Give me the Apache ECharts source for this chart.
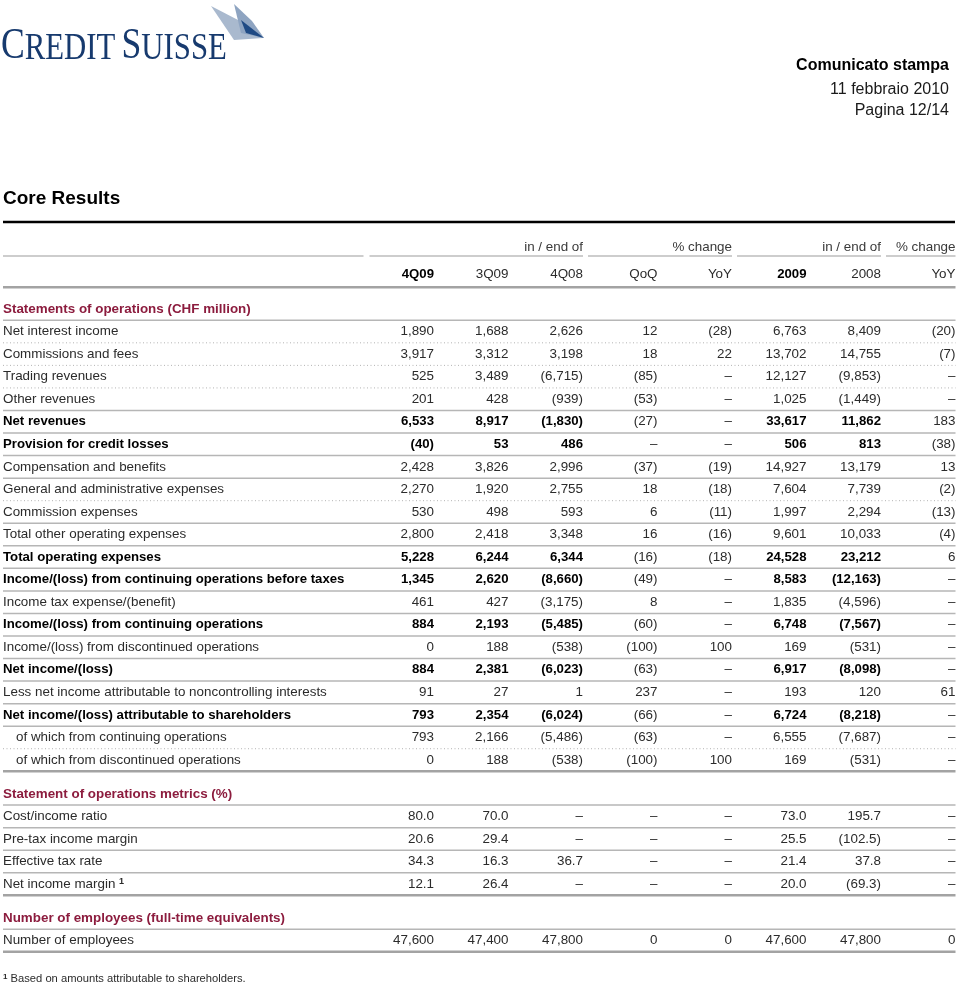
<!DOCTYPE html>
<html>
<head>
<meta charset="utf-8">
<title>Core Results</title>
<script src="https://cdn.jsdelivr.net/npm/echarts@6.0.0/dist/echarts.min.js"></script>
<style>
    html, body { margin: 0; padding: 0; background: #ffffff; }
    #chart { width: 960px; height: 985px; }
</style>
</head>
<body>
<div id="chart"></div>
<script>
// ---- table data ----
const colHeads = ['4Q09', '3Q09', '4Q08', 'QoQ', 'YoY', '2009', '2008', 'YoY'];
const groupTitles = ['in / end of', '% change', 'in / end of', '% change'];
const groupSpans = [[0, 2], [3, 4], [5, 6], [7, 7]];

const sectionTitles = [
    'Statements of operations (CHF million)',
    'Statement of operations metrics (%)',
    'Number of employees (full-time equivalents)'
];
// first row index of each section
const sectionStarts = [0, 20, 24];

const rowLabels = [
    'Net interest income', 'Commissions and fees', 'Trading revenues', 'Other revenues',
    'Net revenues', 'Provision for credit losses', 'Compensation and benefits',
    'General and administrative expenses', 'Commission expenses', 'Total other operating expenses',
    'Total operating expenses', 'Income/(loss) from continuing operations before taxes',
    'Income tax expense/(benefit)', 'Income/(loss) from continuing operations',
    'Income/(loss) from discontinued operations', 'Net income/(loss)',
    'Less net income attributable to noncontrolling interests',
    'Net income/(loss) attributable to shareholders',
    'of which from continuing operations', 'of which from discontinued operations',
    'Cost/income ratio', 'Pre-tax income margin', 'Effective tax rate', 'Net income margin',
    'Number of employees'
];
// n = normal, b = bold total, i = indented
const rowKind = ['n','n','n','n','b','b','n','n','n','n','b','b','n','b','n','b','n','b','i','i','n','n','n','n','n'];
// rule under each row
const ruleBelow = ['dot','dot','dot','solid','solid','solid','solid','dot','solid','solid','solid','solid','solid','solid','solid','solid','solid','solid','dot','end','solid','solid','solid','end','end'];
const noteRows = [23];

const q409 = ['1,890','3,917','525','201','6,533','(40)','2,428','2,270','530','2,800','5,228','1,345','461','884','0','884','91','793','793','0','80.0','20.6','34.3','12.1','47,600'];
const q309 = ['1,688','3,312','3,489','428','8,917','53','3,826','1,920','498','2,418','6,244','2,620','427','2,193','188','2,381','27','2,354','2,166','188','70.0','29.4','16.3','26.4','47,400'];
const q408 = ['2,626','3,198','(6,715)','(939)','(1,830)','486','2,996','2,755','593','3,348','6,344','(8,660)','(3,175)','(5,485)','(538)','(6,023)','1','(6,024)','(5,486)','(538)','–','–','36.7','–','47,800'];
const chgQoQ = ['12','18','(85)','(53)','(27)','–','(37)','18','6','16','(16)','(49)','8','(60)','(100)','(63)','237','(66)','(63)','(100)','–','–','–','–','0'];
const chgYoYq = ['(28)','22','–','–','–','–','(19)','(18)','(11)','(16)','(18)','–','–','–','100','–','–','–','–','100','–','–','–','–','0'];
const y2009 = ['6,763','13,702','12,127','1,025','33,617','506','14,927','7,604','1,997','9,601','24,528','8,583','1,835','6,748','169','6,917','193','6,724','6,555','169','73.0','25.5','21.4','20.0','47,600'];
const y2008 = ['8,409','14,755','(9,853)','(1,449)','11,862','813','13,179','7,739','2,294','10,033','23,212','(12,163)','(4,596)','(7,567)','(531)','(8,098)','120','(8,218)','(7,687)','(531)','195.7','(102.5)','37.8','(69.3)','47,800'];
const chgYoYy = ['(20)','(7)','–','–','183','(38)','13','(2)','(13)','(4)','6','–','–','–','–','–','61','–','–','–','–','–','–','–','0'];

const columns = [q409, q309, q408, chgQoQ, chgYoYq, y2009, y2008, chgYoYy];
const boldHeadCols = [0, 5];
const boldValueCols = [0, 1, 2, 5, 6];

// ---- layout / style ----
const LABEL_W = 356.5;
const FAM = '"Liberation Sans", Arial, Helvetica, sans-serif';
const F_REG = '13.4px ' + FAM;
const F_BOLD = 'bold 13.2px ' + FAM;
const C_TEXT = '#2b2b2b';
const C_BOLD = '#000000';
const C_SECTION = '#8c1c3e';
const SERIF = '"Liberation Serif", "DejaVu Serif", serif';

// build the row list, y in row units (0 = first section title)
const tableRows = [];
tableRows.push({ type: 'group', y: -2.75 });
tableRows.push({ type: 'head', y: -1.55 });
let yPos = 0;
sectionTitles.forEach((title, s) => {
    if (s > 0) yPos += 1.5;
    tableRows.push({ type: 'section', text: title, y: yPos });
    const end = s + 1 < sectionStarts.length ? sectionStarts[s + 1] : rowLabels.length;
    for (let i = sectionStarts[s]; i < end; i++) {
        yPos += 1;
        tableRows.push({ type: 'row', idx: i, y: yPos });
    }
});

function ruleStyle(kind) {
    if (kind === 'dot') return { stroke: '#b3b3b3', lineWidth: 1, lineDash: [1, 2.5] };
    if (kind === 'end') return { stroke: '#a3a3a3', lineWidth: 2.5 };
    return { stroke: '#b6b6b6', lineWidth: 1.5 };
}

function txt(text, x, y, align, font, fill, extra) {
    return {
        type: 'text',
        style: Object.assign({ text: text, x: x, y: y, align: align, verticalAlign: 'middle', font: font, fill: fill }, extra || {})
    };
}

function renderItem(params, api) {
    const r = tableRows[api.value(2)];
    const cs = params.coordSys;
    const y = api.coord([0, api.value(1)])[1];
    const unit = api.size([0, 1])[1];
    const left = cs.x - LABEL_W;
    const right = cs.x + cs.width;
    const colRight = k => api.coord([k + 1, 0])[0];
    const colLeft = k => api.coord([k, 0])[0];
    const kids = [];
    const hline = (x1, x2, yy, st) => kids.push({ type: 'line', shape: { x1: x1, y1: yy, x2: x2, y2: yy }, style: st });

    if (r.type === 'group') {
        const ly = y + unit * 0.4;
        hline(left, cs.x + 4, ly, { stroke: '#bdbdbd', lineWidth: 1.5 });
        groupTitles.forEach((t, g) => {
            const a = groupSpans[g][0], b = groupSpans[g][1];
            kids.push(txt(t, colRight(b), y, 'right', F_REG, '#3a3a3a'));
            hline(colLeft(a) + (a === 0 ? 10 : 5), colRight(b), ly, { stroke: '#bdbdbd', lineWidth: 1.5 });
        });
    } else if (r.type === 'head') {
        colHeads.forEach((h, k) => {
            const b = boldHeadCols.indexOf(k) >= 0;
            kids.push(txt(h, colRight(k), y, 'right', b ? F_BOLD : F_REG, b ? C_BOLD : C_TEXT));
        });
        hline(left, right, y + unit * 0.58, ruleStyle('end'));
    } else if (r.type === 'section') {
        kids.push(txt(r.text, left, y, 'left', 'bold 13.4px ' + FAM, C_SECTION));
        hline(left, right, y + unit * 0.5, ruleStyle('solid'));
    } else {
        const i = r.idx;
        const bold = rowKind[i] === 'b';
        const indent = rowKind[i] === 'i' ? 13 : 0;
        if (noteRows.indexOf(i) >= 0) {
            kids.push(txt(rowLabels[i] + ' {sup|1}', left + indent, y, 'left', F_REG, C_TEXT, {
                rich: { sup: { font: 'bold 9px ' + FAM, fill: C_TEXT, verticalAlign: 'top', padding: [0, 0, 6, 0] } }
            }));
        } else {
            kids.push(txt(rowLabels[i], left + indent, y, 'left', bold ? F_BOLD : F_REG, bold ? C_BOLD : C_TEXT));
        }
        columns.forEach((col, k) => {
            const b = bold && boldValueCols.indexOf(k) >= 0;
            kids.push(txt(col[i], colRight(k), y, 'right', b ? F_BOLD : F_REG, b ? C_BOLD : C_TEXT));
        });
        hline(left, right, y + unit * 0.5, ruleStyle(ruleBelow[i]));
    }
    return { type: 'group', children: kids };
}

const chart = echarts.init(document.getElementById('chart'), null, { renderer: 'canvas' });

const option = {
    backgroundColor: '#ffffff',
    animation: false,
    grid: { left: 3 + LABEL_W, right: 4.5, top: 241.35, height: 721.6 },
    xAxis: { type: 'value', min: 0, max: 8, show: false },
    yAxis: { type: 'value', min: -3, max: 29, inverse: true, show: false },
    series: [{
        type: 'custom',
        coordinateSystem: 'cartesian2d',
        renderItem: renderItem,
        clip: false,
        silent: true,
        encode: { x: 0, y: 1 },
        data: tableRows.map((r, i) => [0, r.y, i])
    }],
    graphic: [
        // logo sails
        { type: 'polygon', shape: { points: [[211, 6], [240, 21], [263, 38], [234, 40]] }, style: { fill: '#a9b9ce' } },
        { type: 'polygon', shape: { points: [[234, 4], [252, 21], [264, 38], [241, 33]] }, style: { fill: '#8ea4c1' } },
        { type: 'polygon', shape: { points: [[241, 20], [264, 38], [246, 33]] }, style: { fill: '#1f4a84' } },
        {
            type: 'text', x: 1, y: 68, scaleX: 0.81,
            style: {
                text: '{a|C}{b|REDIT}{sp| }{a|S}{b|UISSE}',
                verticalAlign: 'bottom',
                rich: {
                    a: { font: '44px ' + SERIF, fill: '#173a6e', verticalAlign: 'bottom', lineHeight: 44 },
                    b: { font: '38px ' + SERIF, fill: '#173a6e', verticalAlign: 'bottom', lineHeight: 44 },
                    sp: { font: '30px ' + SERIF, verticalAlign: 'bottom', lineHeight: 44 }
                }
            }
        },
        // page header
        { type: 'text', right: 11, top: 58, style: { text: 'Comunicato stampa', font: 'bold 16px ' + FAM, fill: '#000' } },
        { type: 'text', right: 11, top: 82, style: { text: '11 febbraio 2010', font: '16px ' + FAM, fill: '#1a1a1a' } },
        { type: 'text', right: 11, top: 103, style: { text: 'Pagina 12/14', font: '16px ' + FAM, fill: '#1a1a1a' } },
        { type: 'text', left: 3, top: 189, style: { text: 'Core Results', font: 'bold 19px ' + FAM, fill: '#000' } },
        { type: 'line', shape: { x1: 3, y1: 222, x2: 955, y2: 222 }, style: { stroke: '#000', lineWidth: 2.5 } },
        // footnote
        {
            type: 'text', left: 3, top: 973,
            style: {
                text: '{s|1} Based on amounts attributable to shareholders.',
                font: '11.2px ' + FAM, fill: C_TEXT,
                rich: { s: { font: 'bold 8px ' + FAM, fill: C_TEXT, verticalAlign: 'top' } }
            }
        }
    ]
};

chart.setOption(option);
</script>
</body>
</html>
